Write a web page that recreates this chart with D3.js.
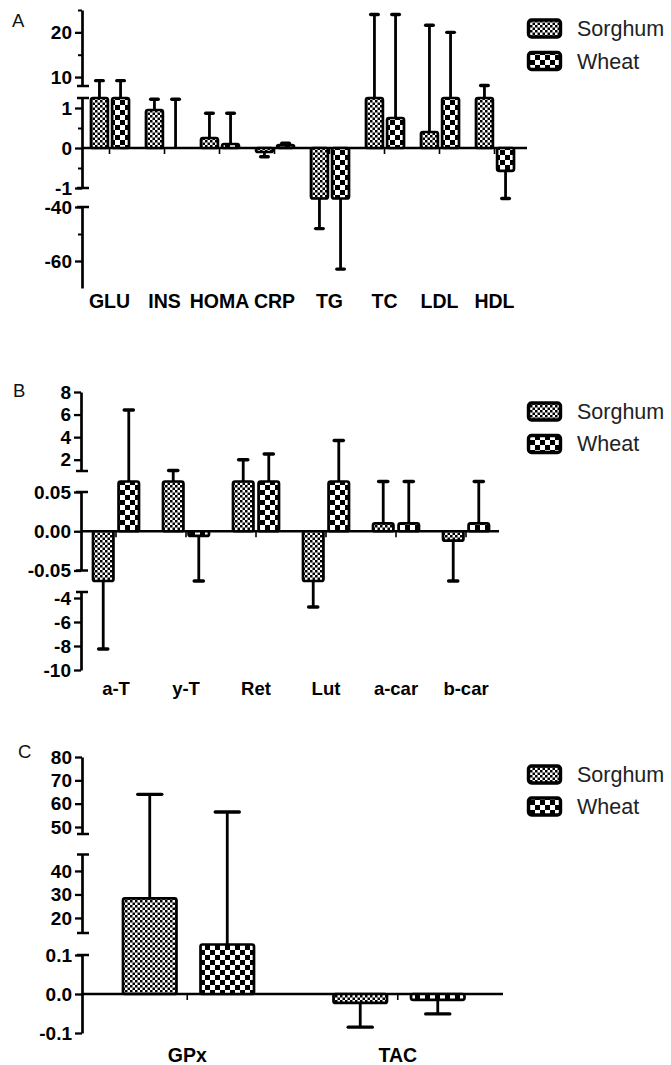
<!DOCTYPE html>
<html><head><meta charset="utf-8">
<script src="https://cdn.jsdelivr.net/npm/d3@7"></script>
<style>
html,body{margin:0;padding:0;background:#fff;}
svg{display:block;font-family:"Liberation Sans",Arial,Helvetica,sans-serif;}
</style></head><body>
<svg id="chart" width="671" height="1065"></svg>
<script>
// ---------------- DATA ----------------
const seriesNames = ["Sorghum", "Wheat"];

// Panel A
const catsA = ["GLU", "INS", "HOMA", "CRP", "TG", "TC", "LDL", "HDL"];
const sorghumA = [1.25, 0.95, 0.25, -0.1, -25, 1.25, 0.4, 1.25];
const sorghumErrA = [9.2, 1.22, 0.87, -0.22, -48, 24.0, 21.6, 8.1];
const wheatA = [1.25, 0, 0.1, 0.07, -25, 0.75, 1.25, -0.57];
const wheatErrA = [9.2, 1.22, 0.87, 0.12, -63, 24.0, 20.0, -3];
const yDomainsA = [[8, 25], [-1, 1.25], [-70, -40]];
const yTicksA = [[10, 20], [-1, 0, 1], [-60, -40]];
const yMinorA = [[15, 25], [-0.5, 0.5], [-50]];

// Panel B
const catsB = ["a-T", "y-T", "Ret", "Lut", "a-car", "b-car"];
const sorghumB = [-0.6, 0.5, 0.5, -0.6, 0.01, -0.012];
const sorghumErrB = [-8.25, 1.05, 2.0, -4.75, 0.5, -0.5];
const wheatB = [0.5, -0.006, 0.5, 0.5, 0.01, 0.01];
const wheatErrB = [6.4, -0.5, 2.5, 3.7, 0.5, 0.5];
const yDomainsB = [[1, 8], [-0.05, 0.05], [-10, -3.5]];
const yTicksB = [[2, 4, 6, 8], [-0.05, 0, 0.05], [-10, -8, -6, -4]];
const yMinorB = [[], [], []];

// Panel C
const catsC = ["GPx", "TAC"];
const sorghumC = [28.3, -0.023];
const sorghumErrC = [64, -0.085];
const wheatC = [12.5, -0.015];
const wheatErrC = [56.4, -0.051];
const yDomainsC = [[47, 80], [13.6, 47], [-0.1, 0.1]];
const yTicksC = [[50, 60, 70, 80], [20, 30, 40], [-0.1, 0, 0.1]];
const yMinorC = [[], [], []];

// ---------------- LAYOUT / STYLE ----------------
const locale = d3.formatLocale({decimal: ".", thousands: ",", grouping: [3], currency: ["", ""], minus: "-"});
const fInt = locale.format("d"), f2 = locale.format(".2f"), f1 = locale.format(".1f");

const panels = [
  {
    letter: "A", letterPos: [12, 27],
    cats: catsA, s: sorghumA, se: sorghumErrA, w: wheatA, we: wheatErrA,
    axisX: 82, xRange: [82, 522], xEnd: 527, inner: [9, 47], innerPad: 0.2,
    xLabelY: 308, xLabelSize: 19.5,
    segs: [
      {domain: yDomainsA[0], range: [86, 10], major: yTicksA[0], minor: yMinorA[0], fmt: fInt, capLo: true, capHi: false},
      {domain: yDomainsA[1], range: [188, 98], major: yTicksA[1], minor: yMinorA[1], fmt: fInt, capLo: true, capHi: true},
      {domain: yDomainsA[2], range: [288, 207], major: yTicksA[2], minor: yMinorA[2], fmt: fInt, capLo: false, capHi: true}
    ],
    legendY: [20, 52.5], legendText: [36, 69]
  },
  {
    letter: "B", letterPos: [13, 397],
    cats: catsB, s: sorghumB, se: sorghumErrB, w: wheatB, we: wheatErrB,
    axisX: 81, xRange: [81, 501], xEnd: 499, inner: [12, 58], innerPad: 0.2,
    xLabelY: 695, xLabelSize: 18.5,
    segs: [
      {domain: yDomainsB[0], range: [471, 392], major: yTicksB[0], minor: yMinorB[0], fmt: fInt, capLo: true, capHi: false},
      {domain: yDomainsB[1], range: [570.5, 492], major: yTicksB[1], minor: yMinorB[1], fmt: f2, capLo: true, capHi: true},
      {domain: yDomainsB[2], range: [670, 592], major: yTicksB[2], minor: yMinorB[2], fmt: fInt, capLo: false, capHi: true}
    ],
    legendY: [403, 435.5], legendText: [418.5, 451]
  },
  {
    letter: "C", letterPos: [18, 758],
    cats: catsC, s: sorghumC, se: sorghumErrC, w: wheatC, we: wheatErrC,
    axisX: 82, xRange: [82, 503], xEnd: 503, inner: [41, 172], innerPad: 0.31,
    xLabelY: 1062, xLabelSize: 19.5,
    segs: [
      {domain: yDomainsC[0], range: [834, 757], major: yTicksC[0], minor: yMinorC[0], fmt: fInt, capLo: true, capHi: false},
      {domain: yDomainsC[1], range: [933, 854.5], major: yTicksC[1], minor: yMinorC[1], fmt: fInt, capLo: true, capHi: true},
      {domain: yDomainsC[2], range: [1033, 955], major: yTicksC[2], minor: yMinorC[2], fmt: f1, capLo: false, capHi: true}
    ],
    legendY: [766, 798], legendText: [782, 814]
  }
];

const OVERSHOOT = 10.5;

const svg = d3.select("#chart");
const defs = svg.append("defs");

// patterns
const pS = defs.append("pattern").attr("id", "pat-sorghum").attr("patternUnits", "userSpaceOnUse")
  .attr("width", 5).attr("height", 5);
pS.append("rect").attr("width", 5).attr("height", 5).attr("fill", "#fff");
pS.append("rect").attr("width", 2.5).attr("height", 2.5).attr("fill", "#000");
pS.append("rect").attr("x", 2.5).attr("y", 2.5).attr("width", 2.5).attr("height", 2.5).attr("fill", "#000");

const pW = defs.append("pattern").attr("id", "pat-wheat").attr("patternUnits", "userSpaceOnUse")
  .attr("width", 10).attr("height", 10);
pW.append("rect").attr("width", 10).attr("height", 10).attr("fill", "#fff");
pW.append("rect").attr("width", 5).attr("height", 5).attr("fill", "#000");
pW.append("rect").attr("x", 5).attr("y", 5).attr("width", 5).attr("height", 5).attr("fill", "#000");

const fills = {Sorghum: "url(#pat-sorghum)", Wheat: "url(#pat-wheat)"};

function brokenScale(segs) {
  return function (v) {
    for (const s of segs) {
      const [a, b] = s.scale.domain();
      if (v >= a && v <= b) return s.scale(v);
    }
    if (v > 0) {
      let best = null;
      segs.forEach(s => { const hi = s.scale.domain()[1]; if (hi < v && (best === null || hi > best.scale.domain()[1])) best = s; });
      return best.scale(best.scale.domain()[1]) - OVERSHOOT;
    } else {
      let best = null;
      segs.forEach(s => { const lo = s.scale.domain()[0]; if (lo > v && (best === null || lo < best.scale.domain()[0])) best = s; });
      return best.scale(best.scale.domain()[0]) + OVERSHOOT;
    }
  };
}

panels.forEach(cfg => {
  const g = svg.append("g");
  const segs = cfg.segs.map(s => Object.assign({}, s, {scale: d3.scaleLinear().domain(s.domain).range(s.range)}));
  const y = brokenScale(segs);
  const x0 = d3.scaleBand().domain(cfg.cats).range(cfg.xRange);
  const x1 = d3.scaleBand().domain(seriesNames).range(cfg.inner).paddingInner(cfg.innerPad);
  const zeroY = y(0);

  // panel letter
  g.append("text").attr("x", cfg.letterPos[0]).attr("y", cfg.letterPos[1])
    .attr("font-size", 18.5).attr("fill", "#111").text(cfg.letter);

  // y axis segments
  segs.forEach(s => {
    const ax = d3.axisLeft(s.scale).tickValues(s.major).tickSize(7).tickSizeOuter(0)
      .tickPadding(3).tickFormat(s.fmt);
    const ag = g.append("g").attr("transform", `translate(${cfg.axisX},0)`).call(ax);
    ag.select(".domain").attr("stroke", "#000").attr("stroke-width", 2.7);
    ag.selectAll(".tick line").attr("stroke", "#000").attr("stroke-width", 2.3);
    ag.selectAll(".tick text").attr("font-size", 19).attr("font-weight", "bold")
      .attr("fill", "#000").attr("font-family", "'Liberation Sans', Arial, sans-serif");
    if (s.minor.length) {
      const mx = d3.axisLeft(s.scale).tickValues(s.minor).tickSize(4).tickSizeOuter(0).tickFormat("");
      const mg = g.append("g").attr("transform", `translate(${cfg.axisX},0)`).call(mx);
      mg.select(".domain").remove();
      mg.selectAll(".tick line").attr("stroke", "#000").attr("stroke-width", 2);
    }
    const caps = [];
    if (s.capLo) caps.push(s.scale(s.domain[0]));
    if (s.capHi) caps.push(s.scale(s.domain[1]));
    g.selectAll(null).data(caps).join("line")
      .attr("x1", cfg.axisX - 5).attr("x2", cfg.axisX + 7)
      .attr("y1", d => d).attr("y2", d => d)
      .attr("stroke", "#000").attr("stroke-width", 2.5);
  });

  // x axis
  g.append("line").attr("x1", cfg.axisX).attr("x2", cfg.xEnd).attr("y1", zeroY).attr("y2", zeroY)
    .attr("stroke", "#000").attr("stroke-width", 2.7);
  const xa = d3.axisBottom(x0).tickSize(6).tickSizeOuter(0).tickFormat("");
  const xg = g.append("g").attr("transform", `translate(0,${zeroY})`).call(xa);
  xg.select(".domain").remove();
  xg.selectAll(".tick line").attr("stroke", "#000").attr("stroke-width", 1.6);

  // category labels
  g.selectAll(null).data(cfg.cats).join("text")
    .attr("x", d => x0(d) + x0.bandwidth() / 2).attr("y", cfg.xLabelY)
    .attr("text-anchor", "middle").attr("font-size", cfg.xLabelSize).attr("font-weight", "bold")
    .attr("fill", "#000").text(d => d);

  // bars
  const rows = [];
  cfg.cats.forEach((c, i) => {
    rows.push({cat: c, series: "Sorghum", v: cfg.s[i], e: cfg.se[i]});
    rows.push({cat: c, series: "Wheat", v: cfg.w[i], e: cfg.we[i]});
  });
  const bw = x1.bandwidth();
  const capLen = bw * 0.45;

  rows.forEach(r => {
    const cx = x0(r.cat) + x1(r.series) + bw / 2;
    const yb = y(r.v), ye = y(r.e);
    g.append("line").attr("x1", cx).attr("x2", cx).attr("y1", yb).attr("y2", ye)
      .attr("stroke", "#000").attr("stroke-width", 2.8);
    g.append("line").attr("x1", cx - capLen / 2).attr("x2", cx + capLen / 2).attr("y1", ye).attr("y2", ye)
      .attr("stroke", "#000").attr("stroke-width", 3.4).attr("stroke-linecap", "round");
  });

  g.selectAll(null).data(rows).join("rect")
    .attr("x", d => x0(d.cat) + x1(d.series))
    .attr("width", bw)
    .attr("y", d => Math.min(y(d.v), zeroY))
    .attr("height", d => Math.abs(y(d.v) - zeroY))
    .attr("rx", 2).attr("ry", 2)
    .attr("fill", d => fills[d.series])
    .attr("stroke", "#000").attr("stroke-width", 2.7);

  // legend
  seriesNames.forEach((name, k) => {
    g.append("rect").attr("x", 528.5).attr("y", cfg.legendY[k]).attr("width", 32).attr("height", 17)
      .attr("rx", 3).attr("fill", fills[name]).attr("stroke", "#000").attr("stroke-width", 3.4);
    g.append("text").attr("x", 577).attr("y", cfg.legendText[k]).attr("font-size", 21.5)
      .attr("fill", "#222").text(name);
  });
});
</script>
</body></html>
